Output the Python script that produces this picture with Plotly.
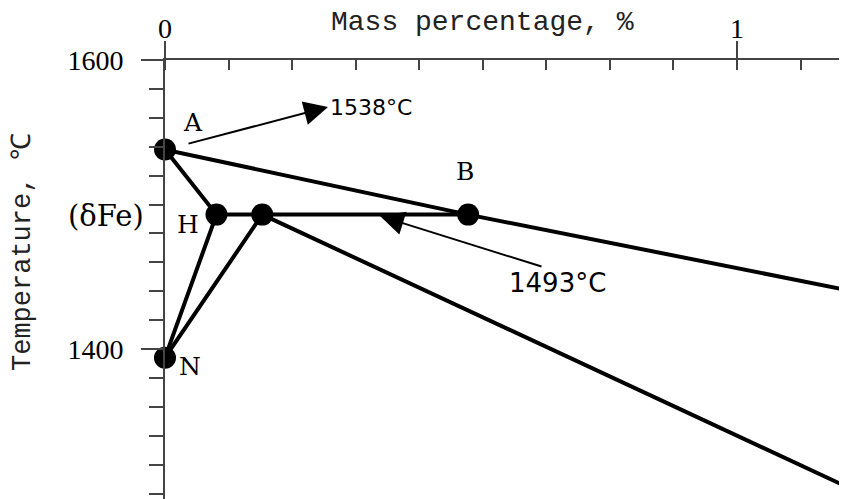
import plotly.graph_objects as go

# ---- data (mass %, temperature °C) ----
point_names = ["A", "H", "J", "B", "N"]
point_x = [0.0, 0.09, 0.17, 0.53, 0.0]
point_y = [1538, 1493, 1493, 1493, 1394]

line_AB_x = [0.0, 0.53, 1.19]
line_AB_y = [1538, 1493, 1441]
line_AHN_x = [0.0, 0.09, 0.0]
line_AHN_y = [1538, 1493, 1394]
line_HB_x = [0.09, 0.53]
line_HB_y = [1493, 1493]
line_NJ_x = [0.0, 0.17, 1.19]
line_NJ_y = [1394, 1493, 1305]

x_tickvals = [0, 1]
x_ticktext = ["0", "1"]
y_tickvals = [1400, 1600]
y_ticktext = ["1400", "1600"]

label_A_temp = "1538°C"
label_HJB_temp = "1493°C"

# page body has an 8px margin; the figure is sized/offset to compensate
OFF = 8
W, H = 847 - OFF, 499 - OFF
L, T = 165 - OFF, 60 - OFF
px_per_x = 572.0
px_per_y = 289.0 / 200.0
x_max = (W - L) / px_per_x
y_min = 1600 - (H - T) / px_per_y

fig = go.Figure()
line_style = dict(color="black", width=4)
for xs, ys in [(line_AB_x, line_AB_y), (line_AHN_x, line_AHN_y),
               (line_HB_x, line_HB_y), (line_NJ_x, line_NJ_y)]:
    fig.add_trace(go.Scatter(x=xs, y=ys, mode="lines", line=line_style,
                             hoverinfo="skip", showlegend=False))

fig.add_trace(go.Scatter(x=point_x, y=point_y, mode="markers",
                         marker=dict(color="black", size=22),
                         text=point_names, showlegend=False, cliponaxis=False))

lab_font = dict(family="DejaVu Serif", size=25, color="black")
shifts = {"A": (28, 27), "B": (-3, 43), "H": (-28, -10), "N": (25, -9)}
ann = []
for n, xv, yv in zip(point_names, point_x, point_y):
    if n in shifts:
        dx, dy = shifts[n]
        ann.append(dict(x=xv, y=yv, text=n, showarrow=False, xshift=dx, yshift=dy,
                        xanchor="center", yanchor="middle", font=lab_font))

ann.append(dict(x=point_x[1], y=point_y[1], xref="x", yref="y", text="(δFe)",
                showarrow=False, xshift=-110, yshift=-1,
                xanchor="center", yanchor="middle",
                font=dict(family="DejaVu Serif", size=29, color="black")))

# x tick labels (top)
for tv, tt in zip(x_tickvals, x_ticktext):
    ann.append(dict(x=tv, xref="x", yref="paper", y=(499 - 29) / (499 - 60),
                    text=tt, showarrow=False, xanchor="center", yanchor="middle",
                    font=dict(family="Liberation Serif", size=28, color="black")))

def px_to_x(p):
    return (p - 165) / px_per_x

def py_to_y(p):
    return 1600 - (p - 60) / px_per_y

# arrow to 1538°C
hx1, hy1 = px_to_x(328), py_to_y(107)
ann.append(dict(x=hx1, y=hy1, text="", showarrow=True, ax=-141, ay=37,
                arrowhead=2, arrowsize=2.4, arrowwidth=2, arrowcolor="black",
                standoff=0, startstandoff=0))
ann.append(dict(x=hx1, y=hy1, text=label_A_temp, showarrow=False,
                xanchor="left", yanchor="middle",
                font=dict(family="DejaVu Sans", size=22, color="black")))

# arrow to 1493°C line
hx2, hy2 = px_to_x(380), py_to_y(216)
ann.append(dict(x=hx2, y=hy2, text="", showarrow=True, ax=163, ay=51,
                arrowhead=2, arrowsize=2.4, arrowwidth=2, arrowcolor="black",
                standoff=0, startstandoff=0))
ann.append(dict(x=px_to_x(557), y=py_to_y(283), text=label_HJB_temp, showarrow=False,
                xanchor="center", yanchor="middle",
                font=dict(family="DejaVu Sans", size=26, color="black")))

# axis titles
ann.append(dict(xref="paper", yref="paper", x=(482 - 165) / (847 - 165),
                y=(499 - 22) / (499 - 60), xanchor="center", yanchor="middle",
                text="Mass percentage, %", showarrow=False,
                font=dict(family="Liberation Mono", size=28, color="#222")))
ann.append(dict(xref="paper", yref="paper", x=(23 - 165) / (847 - 165),
                y=(499 - 252) / (499 - 60), xanchor="center", yanchor="middle",
                text="Temperature, ℃", showarrow=False, textangle=-90,
                font=dict(family="Liberation Mono", size=27, color="#222")))

fig.update_layout(
    width=W, height=H,
    margin=dict(l=L, r=0, t=T, b=0, autoexpand=False),
    paper_bgcolor="white", plot_bgcolor="white",
    annotations=ann,
    xaxis=dict(side="top", range=[0, x_max], showgrid=False, zeroline=False,
               automargin=False,
               showline=True, linecolor="#444", linewidth=2,
               tickmode="array", tickvals=x_tickvals, ticktext=x_ticktext,
               showticklabels=False,
               ticks="outside", ticklen=17, tickwidth=2, tickcolor="#444",
               minor=dict(ticks="inside", ticklen=10, tickwidth=2, tickcolor="#444",
                          tick0=0, dtick=1 / 9, showgrid=False)),
    yaxis=dict(range=[y_min, 1600], showgrid=False, zeroline=False,
               automargin=False,
               showline=True, linecolor="#444", linewidth=2,
               tickmode="array", tickvals=y_tickvals, ticktext=y_ticktext,
               ticks="outside", ticklen=22, tickwidth=2, tickcolor="#444",
               ticklabelstandoff=12,
               tickfont=dict(family="Liberation Serif", size=28, color="black"),
               minor=dict(ticks="outside", ticklen=14, tickwidth=2, tickcolor="#444",
                          tick0=1400, dtick=20, showgrid=False)),
)

fig.write_html("out.html")
